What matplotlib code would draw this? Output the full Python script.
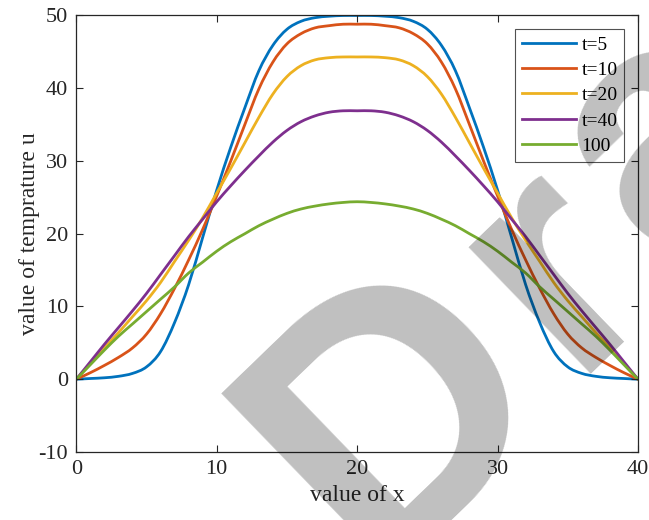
import matplotlib
matplotlib.use("Agg")
import matplotlib.pyplot as plt
import numpy as np
from matplotlib.path import Path
from matplotlib.patches import PathPatch

# temperature profiles (x = 0..40, step 1)
x = list(range(41))
u_t5 = [0.0, 0.1, 0.2, 0.4, 0.8, 1.7, 3.8, 7.8, 13.0, 19.5, 26.0, 31.9, 37.3, 42.4, 45.9, 48.1, 49.2, 49.7, 49.9, 50.0,
        50.0,
        50.0, 49.9, 49.7, 49.2, 48.1, 45.9, 42.4, 37.3, 31.9, 26.0, 19.5, 13.0, 7.8, 3.8, 1.7, 0.8, 0.4, 0.2, 0.1, 0.0]
u_t10 = [0.0, 0.9, 1.9, 3.0, 4.3, 6.2, 9.0, 12.5, 16.4, 20.6, 25.2, 30.0, 35.0, 39.9, 43.6, 46.1, 47.5, 48.3, 48.6, 48.8,
         48.8,
         48.8, 48.6, 48.3, 47.5, 46.1, 43.6, 39.9, 35.0, 30.0, 25.2, 20.6, 16.4, 12.5, 9.0, 6.2, 4.3, 3.0, 1.9, 0.9, 0.0]
u_t20 = [0.0, 2.1, 4.3, 6.4, 8.6, 10.8, 13.3, 16.2, 19.1, 22.2, 25.6, 29.0, 32.5, 36.0, 39.2, 41.6, 43.1, 43.9, 44.2, 44.3,
         44.3,
         44.3, 44.2, 43.9, 43.1, 41.6, 39.2, 36.0, 32.5, 29.0, 25.6, 22.2, 19.1, 16.2, 13.3, 10.8, 8.6, 6.4, 4.3, 2.1, 0.0]
u_t40 = [0.0, 2.4, 4.8, 7.1, 9.4, 11.8, 14.4, 17.0, 19.6, 22.0, 24.4, 26.6, 28.7, 30.7, 32.6, 34.2, 35.4, 36.2, 36.7, 36.9,
         36.9,
         36.9, 36.7, 36.2, 35.4, 34.2, 32.6, 30.7, 28.7, 26.6, 24.4, 22.0, 19.6, 17.0, 14.4, 11.8, 9.4, 7.1, 4.8, 2.4, 0.0]
u_t100 = [0.0, 2.0, 4.0, 5.9, 7.6, 9.3, 11.0, 12.7, 14.6, 16.1, 17.6, 18.9, 20.0, 21.1, 22.0, 22.8, 23.4, 23.8, 24.1, 24.3,
          24.4,
          24.3, 24.1, 23.8, 23.4, 22.8, 22.0, 21.1, 20.0, 18.9, 17.6, 16.1, 14.6, 12.7, 11.0, 9.3, 7.6, 5.9, 4.0, 2.0, 0.0]

series = [u_t5, u_t10, u_t20, u_t40, u_t100]
labels = ["t=5", "t=10", "t=20", "t=40", "100"]
colors = ["#0072BD", "#D95319", "#EDB120", "#7E2F8E", "#77AC30"]


def smooth_path(xs, ys):
    # cubic bezier through the read points (catmull-rom tangents)
    p = np.column_stack([xs, ys]).astype(float)
    n = len(p)
    verts = [p[0]]
    codes = [Path.MOVETO]
    for i in range(n - 1):
        p0 = p[i - 1] if i > 0 else p[i]
        p3 = p[i + 2] if i + 2 < n else p[i + 1]
        c1 = p[i] + (p[i + 1] - p0) / 6.0
        c2 = p[i + 1] - (p3 - p[i]) / 6.0
        verts += [c1, c2, p[i + 1]]
        codes += [Path.CURVE4] * 3
    return Path(verts, codes)


plt.rcParams["font.family"] = ["Liberation Serif", "DejaVu Serif"]
plt.rcParams["axes.unicode_minus"] = False

fig = plt.figure(figsize=(6.49, 5.2), dpi=100)
ax = fig.add_axes([0.1176, 0.1308, 0.8654, 0.8394])

for u, lab, c in zip(series, labels, colors):
    ax.add_patch(PathPatch(smooth_path(x, u), fill=False, edgecolor=c,
                           linewidth=2, capstyle="round", joinstyle="round"))
    ax.plot([], [], color=c, linewidth=2, label=lab)

ax.set_xlim(0, 40)
ax.set_ylim(-10, 50)
ax.set_xticks([0, 10, 20, 30, 40])
ax.set_yticks([-10, 0, 10, 20, 30, 40, 50])
ax.tick_params(direction="in", top=True, right=True, length=5, width=0.8,
               labelsize=16, colors="#262626", pad=6)
for s in ax.spines.values():
    s.set_color("#262626")
    s.set_linewidth(0.9)

ax.set_xlabel("value of x", fontsize=17, color="#262626", labelpad=4)
ax.set_ylabel("value of temprature u", fontsize=17, color="#262626", labelpad=-1)

leg = ax.legend(loc="upper right", fontsize=14, frameon=True, fancybox=False,
                edgecolor="#262626", handlelength=2.75, handletextpad=0.3,
                borderaxespad=0.7, labelspacing=0.4, borderpad=0.35)
leg.get_frame().set_linewidth(0.8)

# grey "Dra(ft)" watermark over the plot; letters set along a 44 deg baseline
ang = np.deg2rad(44)
base = np.array([np.cos(ang), np.sin(ang)])      # pixel frame, y up
upv = np.array([-np.sin(ang), np.cos(ang)])
origin = np.array([362.0, -66.7])
wm = [("D", 16, 2, 262), ("r", 296, 10, 240), ("a", 440, 25, 240)]
for ch, along, across, size in wm:
    px = origin + along * base + across * upv
    fig.text(px[0] / 649, px[1] / 520, ch, fontsize=size,
             family="Liberation Sans", weight="bold", color="black",
             alpha=0.25, rotation=44, rotation_mode="anchor",
             ha="left", va="baseline", zorder=10)

fig.savefig("out.png", dpi=100)
